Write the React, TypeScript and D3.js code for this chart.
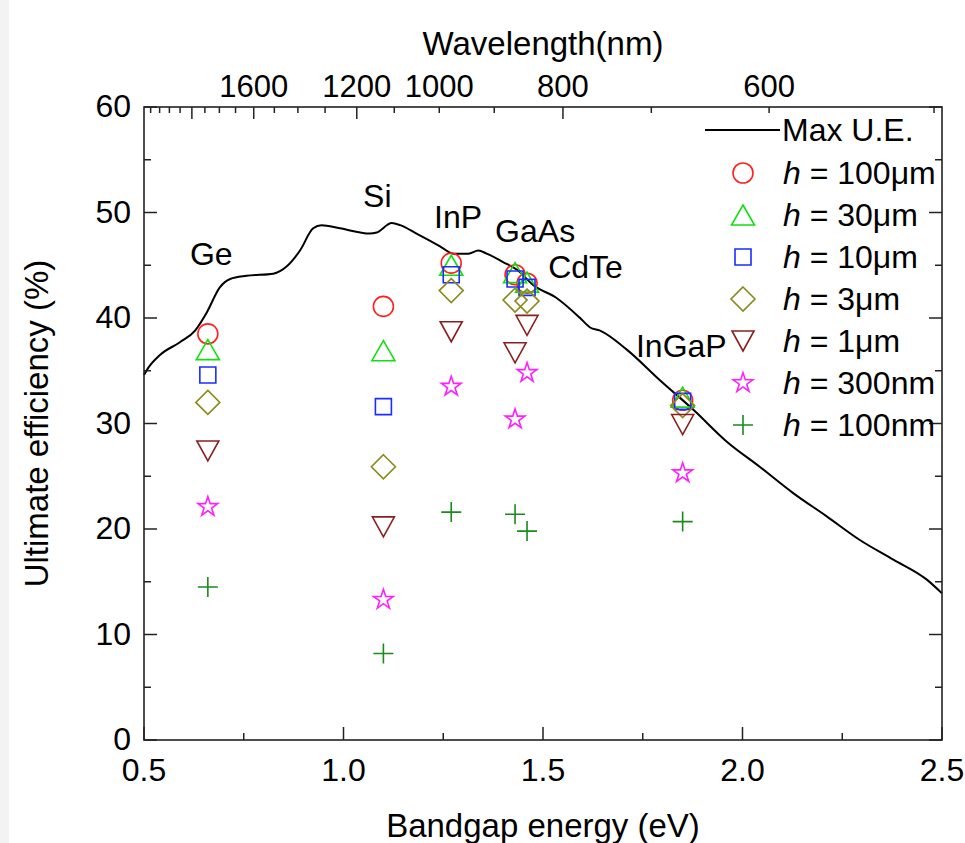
import { useEffect, useRef } from 'react'
import * as d3 from 'd3'

// materials and their bandgaps (eV)
const materials = ['Ge', 'Si', 'InP', 'GaAs', 'CdTe', 'InGaP']
const bandgaps = [0.66, 1.1, 1.27, 1.43, 1.46, 1.85]

// ultimate efficiency (%) per thickness
const h100um = [38.5, 41.1, 45.2, 44.1, 43.3, 32.2]
const h30um = [37.0, 36.9, 45.0, 44.3, 43.4, 32.5]
const h10um = [34.6, 31.6, 44.1, 43.7, 42.9, 32.1]
const h3um = [32.0, 25.9, 42.6, 41.7, 41.6, 31.7]
const h1um = [27.4, 20.2, 38.7, 36.7, 39.3, 29.9]
const h300nm = [22.1, 13.3, 33.5, 30.4, 34.8, 25.3]
const h100nm = [14.5, 8.2, 21.6, 21.4, 19.8, 20.7]

// Max U.E. curve
const maxUEx = [0.5, 0.511, 0.54, 0.59, 0.628, 0.657, 0.69, 0.716, 0.757, 0.824, 0.858, 0.891, 0.924, 0.945, 0.991,
  1.066, 1.083, 1.121, 1.142, 1.183, 1.242, 1.275, 1.313, 1.338, 1.359, 1.4, 1.434, 1.476, 1.534, 1.593, 1.618,
  1.643, 1.71, 1.793, 1.877, 1.96, 2.043, 2.127, 2.211, 2.294, 2.378, 2.462, 2.5]
const maxUEy = [34.6, 35.3, 36.5, 37.7, 38.8, 40.5, 42.9, 43.7, 44.0, 44.2, 44.9, 46.4, 48.5, 48.8, 48.5,
  48.0, 48.1, 49.0, 48.8, 48.0, 46.8, 46.1, 46.1, 46.4, 46.1, 45.3, 44.6, 43.1, 41.9, 40.0, 39.1,
  38.8, 37.0, 34.1, 31.3, 28.3, 25.9, 23.4, 21.2, 18.96, 17.1, 15.2, 13.9]

const xTicks = [0.5, 1.0, 1.5, 2.0, 2.5]
const xMinorTicks = [0.75, 1.25, 1.75, 2.25]
const yTicks = [0, 10, 20, 30, 40, 50, 60]
const yMinorTicks = [5, 15, 25, 35, 45, 55]
const wavelengthLabels = [1600, 1200, 1000, 800, 600]
const wavelengthMajor = [2000, 1600, 1200, 800]
const wavelengthMinor = d3.range(2400, 499, -100)

const series = [
  { name: '100μm', values: h100um, shape: 'circle', color: '#ff2020' },
  { name: '30μm', values: h30um, shape: 'triangle', color: '#10e010' },
  { name: '10μm', values: h10um, shape: 'square', color: '#1a2cff' },
  { name: '3μm', values: h3um, shape: 'diamond', color: '#8a8a1a' },
  { name: '1μm', values: h1um, shape: 'triDown', color: '#8b1f1f' },
  { name: '300nm', values: h300nm, shape: 'star', color: '#ff20ff' },
  { name: '100nm', values: h100nm, shape: 'plus', color: '#1a8a1a' },
]

function markerPath(shape) {
  switch (shape) {
    case 'circle':
      return 'M10,0A10,10,0,1,1,-10,0A10,10,0,1,1,10,0Z'
    case 'triangle':
      return 'M0,-10L11.5,10L-11.5,10Z'
    case 'square':
      return 'M-8,-8H8V8H-8Z'
    case 'diamond':
      return 'M0,-12L12,0L0,12L-12,0Z'
    case 'triDown':
      return 'M-11,-10L11,-10L0,10Z'
    case 'star':
      return d3.symbol(d3.symbolStar, 120)()
    case 'plus':
      return 'M-10,0H10M0,-10V10'
    default:
      return ''
  }
}

export default function App() {
  const ref = useRef(null)

  useEffect(() => {
    const width = 965
    const height = 843
    const margin = { top: 107, right: 23, bottom: 103, left: 144 }
    const font = '"Liberation Sans", Arial, Helvetica, sans-serif'

    const svg = d3.select(ref.current)
    svg.selectAll('*').remove()

    svg.append('rect').attr('width', width).attr('height', height).attr('fill', '#fff')
    svg.append('rect').attr('width', 9).attr('height', height).attr('fill', '#f3f3f3')

    const x = d3.scaleLinear().domain([0.5, 2.5]).range([margin.left, width - margin.right])
    const y = d3.scaleLinear().domain([0, 60]).range([height - margin.bottom, margin.top])
    const [x0, x1] = x.range()
    const [y0, y1] = y.range()

    const g = svg.append('g').style('font-family', font)

    // Max U.E. curve
    const line = d3.line().x(d => x(d[0])).y(d => y(d[1])).curve(d3.curveMonotoneX)
    g.append('path')
      .datum(d3.zip(maxUEx, maxUEy))
      .attr('d', line)
      .attr('fill', 'none')
      .attr('stroke', '#000')
      .attr('stroke-width', 2)

    // frame
    g.append('rect')
      .attr('x', x0).attr('y', y1)
      .attr('width', x1 - x0).attr('height', y0 - y1)
      .attr('fill', 'none').attr('stroke', '#222').attr('stroke-width', 1.6)

    const tick = (x1_, y1_, x2_, y2_) =>
      g.append('line').attr('x1', x1_).attr('y1', y1_).attr('x2', x2_).attr('y2', y2_)
        .attr('stroke', '#222').attr('stroke-width', 1.5)

    // bottom axis
    xTicks.forEach(v => tick(x(v), y0, x(v), y0 - 13))
    xMinorTicks.forEach(v => tick(x(v), y0, x(v), y0 - 7))
    g.selectAll('.xlab').data(xTicks).join('text')
      .attr('x', d => x(d)).attr('y', y0 + 41)
      .attr('text-anchor', 'middle').style('font-size', '32px')
      .text(d => d3.format('.1f')(d))

    // left & right axes
    yTicks.forEach(v => { tick(x0, y(v), x0 + 13, y(v)); tick(x1, y(v), x1 - 13, y(v)) })
    yMinorTicks.forEach(v => { tick(x0, y(v), x0 + 7, y(v)); tick(x1, y(v), x1 - 7, y(v)) })
    g.selectAll('.ylab').data(yTicks).join('text')
      .attr('x', x0 - 13).attr('y', d => y(d) + 10)
      .attr('text-anchor', 'end').style('font-size', '32px')
      .text(d => d)

    // top wavelength axis
    const xw = lambda => x(1240 / lambda)
    wavelengthMinor.forEach(v => tick(xw(v), y1, xw(v), y1 + (wavelengthMajor.includes(v) ? 12 : 6)))
    g.selectAll('.wlab').data(wavelengthLabels).join('text')
      .attr('x', d => xw(d)).attr('y', y1 - 10)
      .attr('text-anchor', 'middle').style('font-size', '31px')
      .text(d => d)

    // axis titles
    g.append('text').attr('x', (x0 + x1) / 2).attr('y', 837)
      .attr('text-anchor', 'middle').style('font-size', '33px').text('Bandgap energy (eV)')
    g.append('text').attr('x', (x0 + x1) / 2).attr('y', 55)
      .attr('text-anchor', 'middle').style('font-size', '33px').text('Wavelength(nm)')
    g.append('text')
      .attr('transform', `translate(48,${(y0 + y1) / 2}) rotate(-90)`)
      .attr('text-anchor', 'middle').style('font-size', '33px').text('Ultimate efficiency (%)')

    // markers
    series.forEach(s => {
      g.selectAll(null).data(s.values).join('path')
        .attr('transform', (d, i) => `translate(${x(bandgaps[i])},${y(d)})`)
        .attr('d', markerPath(s.shape))
        .attr('fill', 'none')
        .attr('stroke', s.color)
        .attr('stroke-width', 1.6)
    })

    // material labels (bandgap, efficiency of baseline)
    const labelAt = {
      Ge: [0.615, 45.0], Si: [1.049, 50.5], InP: [1.227, 48.5],
      GaAs: [1.38, 47.2], CdTe: [1.513, 43.8], InGaP: [1.733, 36.3],
    }
    materials.forEach(m => {
      g.append('text')
        .attr('x', x(labelAt[m][0])).attr('y', y(labelAt[m][1]))
        .style('font-size', '32px').text(m)
    })

    // legend
    const lx = 743
    const leg = g.append('g')
    leg.append('line').attr('x1', 705).attr('x2', 780).attr('y1', 130).attr('y2', 130)
      .attr('stroke', '#000').attr('stroke-width', 2)
    leg.append('text').attr('x', 782).attr('y', 141).style('font-size', '32px').text('Max U.E.')
    series.forEach((s, i) => {
      const ry = 173 + i * 42
      leg.append('path')
        .attr('transform', `translate(${lx},${ry})`)
        .attr('d', markerPath(s.shape))
        .attr('fill', 'none').attr('stroke', s.color).attr('stroke-width', 1.6)
      const t = leg.append('text').attr('x', 783).attr('y', ry + 11).style('font-size', '32px')
      t.append('tspan').style('font-style', 'italic').text('h')
      t.append('tspan').text(` = ${s.name}`)
    })
  }, [])

  return (
    <svg
      ref={ref}
      width={965}
      height={843}
      style={{ position: 'absolute', left: 0, top: 0, display: 'block' }}
    />
  )
}
